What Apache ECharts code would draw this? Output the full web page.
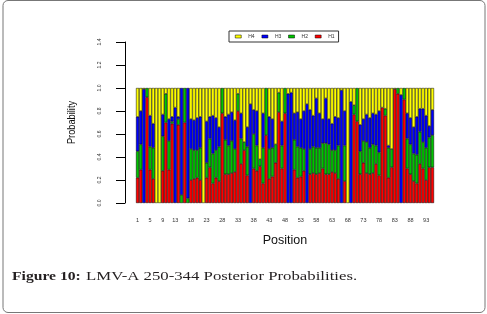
<!DOCTYPE html>
<html><head><meta charset="utf-8">
<script src="https://cdn.jsdelivr.net/npm/echarts@6/dist/echarts.min.js"></script>
<style>html,body{margin:0;padding:0;background:#fff}#c{width:487px;height:314px}</style>
</head><body><div id="c"></div>
<script>
// Positions 1..95 (residues 250-344)
const positions = Array.from({length: 95}, (_, i) => String(i + 1));
const tickLabels = ['1','5','9','13','18','23','28','33','38','43','48','53','58','63','68','73','78','83','88','93'];
const yTicks = ['0.0','0.2','0.4','0.6','0.8','1.0','1.2','1.4'];

// Posterior probabilities per position
const h1 = [0.22,0.29,0,0.92,0.29,0.21,0,0,0.28,0.70,
            0.29,0.69,0,0.68,0,0.70,0,0.20,0.21,0.22,
            0.20,0,0.22,0.31,0.17,0.22,0.19,0.78,0.25,0.25,
            0.26,0.27,0.80,0.34,0.46,0.24,0,0.30,0.28,0.32,
            0.17,0.59,0.21,0.23,0.35,0.79,0.30,0.78,0,0,
            0.29,0.22,0.23,0.28,0,0.25,0.26,0.25,0.26,0.30,
            0.25,0.25,0.27,0.26,0.21,0,0.19,0,0,0.77,
            0.71,0.25,0.35,0.26,0.25,0.26,0.34,0.24,0.83,0.76,
            0.22,0.31,0.99,0.95,0,0.90,0.30,0.25,0.19,0.17,
            0.34,0.30,0.20,0.31,0.31];
const h2 = [0.23,0.22,0,0.08,0.20,0.27,0,0,0.30,0.25,
            0.25,0.02,0,0.05,0.07,0.30,0.04,0.27,0.25,0.24,
            0.28,0,0.13,0.25,0.26,0.24,0.30,0.22,0.30,0.25,
            0.28,0.20,0.15,0.22,0.07,0.25,0,0.30,0.22,0.06,
            0.31,0.41,0.26,0.25,0.16,0.17,0.20,0.22,0,0,
            0.26,0.27,0.25,0.19,0,0.22,0.23,0.23,0.22,0.22,
            0.27,0.26,0.19,0.20,0.29,0,0.31,0,0,0.08,
            0.29,0.20,0.19,0.27,0.23,0.25,0.16,0.20,0,0.06,
            0.26,0.16,0,0.05,0,0.10,0.26,0.26,0.24,0.25,
            0.28,0.23,0.28,0.26,0.28];
const h3 = [0.30,0.29,0.99,0,0.27,0.21,0,0,0.19,0,
            0.19,0.04,0.83,0.02,0.93,0,0.96,0.26,0.26,0.28,
            0.27,0,0.36,0.19,0.33,0.28,0.17,0,0.20,0.27,
            0.25,0.25,0,0.22,0,0.17,0.86,0.21,0.30,0,
            0.30,0,0.28,0.25,0,0,0.21,0,0.95,0.96,
            0.23,0.30,0.25,0.33,0.86,0.34,0.27,0.43,0.30,0.21,
            0.39,0.22,0.23,0.29,0.24,0.98,0.30,0,0.88,0,
            0,0.23,0.19,0.24,0.26,0.27,0.27,0.36,0,0,
            0.02,0,0,0,0.94,0,0.22,0.23,0.23,0.33,
            0.20,0.29,0.28,0.10,0.22];
const h4 = [0.25,0.20,0.01,0,0.24,0.31,1,1,0.23,0.05,
            0.27,0.25,0.17,0.25,0,0,0,0.27,0.28,0.26,
            0.25,1,0.29,0.25,0.24,0.26,0.34,0,0.25,0.23,
            0.21,0.28,0.05,0.22,0.47,0.34,0.14,0.19,0.20,0.62,
            0.22,0,0.25,0.27,0.49,0.04,0.29,0,0.05,0.04,
            0.22,0.21,0.27,0.20,0.14,0.19,0.24,0.09,0.22,0.27,
            0.09,0.27,0.31,0.25,0.26,0.02,0.20,1,0.12,0.15,
            0,0.32,0.27,0.23,0.26,0.22,0.23,0.20,0.17,0.18,
            0.50,0.53,0.01,0,0.06,0,0.22,0.26,0.34,0.25,
            0.18,0.18,0.24,0.33,0.19];

const seriesNames = ['H1','H2','H3','H4'];
const seriesData = [h1, h2, h3, h4];
const legendOrder = ['H4','H3','H2','H1'];
const colors = ['#ff0000', '#00c400', '#0000ff', '#ffff00'];
const SANS = '"Liberation Sans", Arial, sans-serif';

const chart = echarts.init(document.getElementById('c'), null, {renderer: 'canvas'});
chart.setOption({
  animation: false,
  backgroundColor: '#ffffff',
  grid: {left: 136, right: 53, top: 42, bottom: 111, containLabel: false, outerBoundsMode: 'none'},
  legend: {
    data: legendOrder, left: 229, top: 31, orient: 'horizontal',
    itemWidth: 6, itemHeight: 3, itemGap: 7, padding: [3, 4, 3, 6],
    borderColor: '#333', borderWidth: 1, icon: 'rect', selectedMode: false,
    itemStyle: {borderColor: '#000', borderWidth: 0.5},
    textStyle: {fontSize: 5, color: '#333', fontFamily: SANS, padding: [0, 0, 0, 2]}
  },
  xAxis: {
    type: 'category', data: positions,
    axisLine: {show: false}, axisTick: {show: false},
    axisLabel: {
      interval: (idx, val) => tickLabels.includes(val),
      fontSize: 5.5, margin: 14, color: '#333', fontFamily: SANS
    },
    name: 'Position', nameLocation: 'middle', nameGap: 31,
    nameTextStyle: {fontSize: 12.5, fontFamily: SANS, color: '#111'}
  },
  yAxis: {
    type: 'value', min: 0, max: 1.4, interval: 0.2, offset: 11,
    axisLine: {show: true, lineStyle: {color: '#000', width: 1}},
    axisTick: {show: true, length: 9, lineStyle: {color: '#000', width: 1}},
    axisLabel: {rotate: 90, fontSize: 5, margin: 23, color: '#333', fontFamily: SANS,
      formatter: v => yTicks[Math.round(v / 0.2)]},
    splitLine: {show: false}
  },
  series: seriesNames.map((n, i) => ({
    name: n, type: 'bar', stack: 'total',
    data: seriesData[i].map(v => (v === 0 ? null : v)),
    barCategoryGap: '0%', silent: true,
    itemStyle: {color: colors[i], borderColor: '#000', borderWidth: 0.5}
  })),
  graphic: [
    {type: 'rect', shape: {x: 3, y: 0.5, width: 482, height: 312, r: 5},
     style: {fill: 'none', stroke: '#777', lineWidth: 1}, silent: true},
    {type: 'text', x: 72, y: 122.5, rotation: Math.PI / 2, scaleX: 0.84,
     style: {text: 'Probability', font: '11px "Liberation Sans", sans-serif', fill: '#111',
             align: 'center', verticalAlign: 'middle'}},
    {type: 'text', x: 12, y: 277, scaleX: 1.25,
     style: {text: 'Figure 10:', font: '600 12.5px "Liberation Serif", serif', fill: '#231f20', verticalAlign: 'middle'}},
    {type: 'text', x: 86, y: 277, scaleX: 1.34,
     style: {text: 'LMV-A 250-344 Posterior Probabilities.', font: '12.5px "Liberation Serif", serif', fill: '#231f20', verticalAlign: 'middle'}}
  ]
});
</script></body></html>
